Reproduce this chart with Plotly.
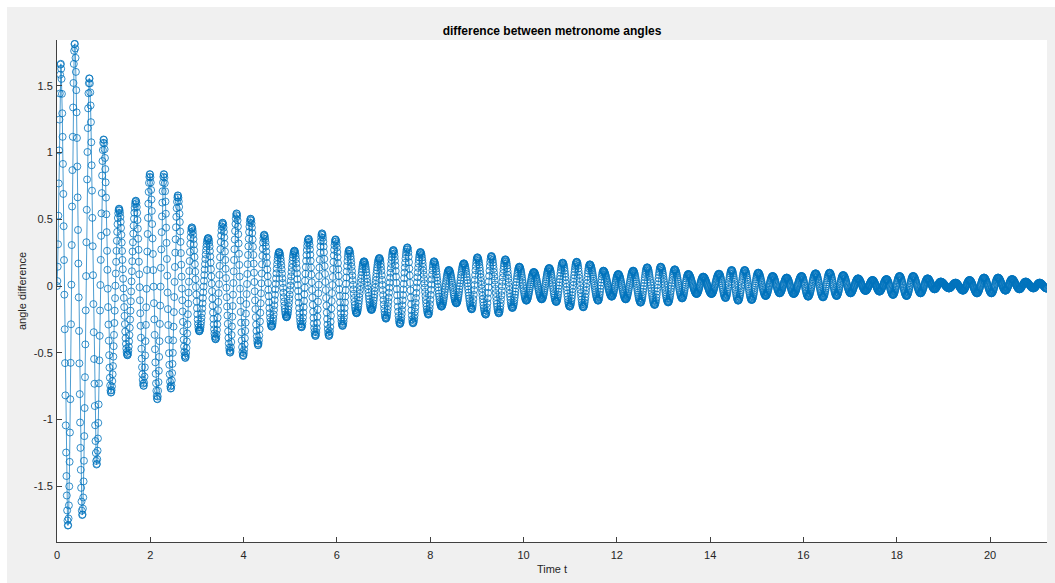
import numpy as np
import plotly.graph_objects as go

# Turning points (local maxima / minima) of the angle difference, in order
turn_t = [0.0, 0.079, 0.236, 0.379, 0.543, 0.693, 0.850, 1.000, 1.157, 1.330,
          1.510, 1.690, 1.857, 1.990, 2.150, 2.290, 2.440, 2.590, 2.750, 2.890,
          3.050, 3.240, 3.400, 3.550, 3.710, 3.850, 3.990, 4.150, 4.310, 4.440,
          4.600, 4.760, 4.920, 5.090, 5.240, 5.390, 5.540, 5.680, 5.830, 5.970,
          6.120, 6.260, 6.420, 6.580, 6.740, 6.910, 7.050, 7.210, 7.350, 7.510,
          7.630, 7.790, 7.960, 8.080, 8.240, 8.400, 8.560, 8.720, 8.890, 9.010,
          9.190, 9.310, 9.470, 9.610, 9.760, 9.910, 10.060, 10.220, 10.390, 10.550,
          10.700, 10.840, 10.990, 11.140, 11.280, 11.420, 11.600, 11.710, 11.890, 12.030,
          12.190, 12.350, 12.510, 12.650, 12.810, 12.940, 13.100, 13.240, 13.400, 13.530,
          13.710, 13.850, 14.030, 14.190, 14.330, 14.460, 14.600, 14.740, 14.890, 15.030,
          15.190, 15.340, 15.490, 15.640, 15.790, 15.960, 16.100, 16.260, 16.420, 16.560,
          16.710, 16.850, 17.010, 17.170, 17.330, 17.480, 17.630, 17.780, 17.920, 18.060,
          18.210, 18.350, 18.510, 18.660, 18.810, 18.940, 19.120, 19.260, 19.420, 19.560,
          19.720, 19.870, 20.030, 20.170, 20.330, 20.470, 20.630, 20.760, 20.930, 21.060,
          21.220]
turn_v = [0.0, 1.67, -1.80, 1.82, -1.72, 1.56, -1.34, 1.10, -0.80, 0.58,
          -0.52, 0.64, -0.75, 0.84, -0.85, 0.84, -0.77, 0.68, -0.54, 0.44,
          -0.34, 0.36, -0.40, 0.475, -0.50, 0.545, -0.525, 0.505, -0.445, 0.385,
          -0.305, 0.255, -0.235, 0.265, -0.31, 0.355, -0.375, 0.395, -0.375, 0.35,
          -0.30, 0.27, -0.205, 0.185, -0.18, 0.21, -0.245, 0.27, -0.285, 0.29,
          -0.28, 0.255, -0.215, 0.185, -0.155, 0.12, -0.13, 0.17, -0.175, 0.215,
          -0.215, 0.225, -0.205, 0.20, -0.165, 0.145, -0.11, 0.105, -0.10, 0.135,
          -0.12, 0.175, -0.155, 0.182, -0.16, 0.162, -0.11, 0.115, -0.08, 0.09,
          -0.10, 0.115, -0.125, 0.14, -0.142, 0.145, -0.123, 0.125, -0.093, 0.09,
          -0.06, 0.07, -0.06, 0.092, -0.09, 0.12, -0.11, 0.12, -0.105, 0.10,
          -0.075, 0.075, -0.055, 0.063, -0.06, 0.075, -0.08, 0.095, -0.085, 0.10,
          -0.075, 0.082, -0.055, 0.057, -0.037, 0.045, -0.042, 0.052, -0.067, 0.075,
          -0.075, 0.075, -0.055, 0.057, -0.025, 0.033, -0.018, 0.025, -0.035, 0.045,
          -0.055, 0.063, -0.055, 0.063, -0.035, 0.052, -0.025, 0.033, -0.018, 0.025,
          -0.02]

# solver output step
dt = 0.0075

tt = np.asarray(turn_t)
vv = np.asarray(turn_v)
t = np.arange(0.0, tt[-1] + 1e-9, dt)
seg = np.clip(np.searchsorted(tt, t, side="right") - 1, 0, len(tt) - 2)
s = (t - tt[seg]) / (tt[seg + 1] - tt[seg])
y = vv[seg] + (vv[seg + 1] - vv[seg]) * (1 - np.cos(np.pi * s)) / 2

BLUE = "#0072BD"
AX = "#404040"
FONT = "Liberation Sans, Arial, Helvetica, sans-serif"

fig = go.Figure()
fig.add_trace(go.Scatter(
    x=t, y=y, mode="lines+markers",
    line=dict(color=BLUE, width=0.7),
    marker=dict(symbol="circle-open", size=7, color=BLUE, line=dict(width=0.8, color=BLUE)),
    showlegend=False, hoverinfo="skip",
))

W, H = 1055, 583
ML, MR, MT, MB = 57, 8, 40, 41
pw, ph = W - ML - MR, H - MT - MB

def px_x(p):
    return (p - ML) / pw

def px_y(p):
    return (H - MB - p) / ph

# white strips at the left and top edge of the window
shapes = [
    dict(type="rect", xref="paper", yref="paper", x0=px_x(0), x1=px_x(7), y0=px_y(H), y1=px_y(0),
         fillcolor="white", line=dict(width=0), layer="below"),
    dict(type="rect", xref="paper", yref="paper", x0=px_x(0), x1=px_x(W), y0=px_y(7), y1=px_y(0),
         fillcolor="white", line=dict(width=0), layer="below"),
]

xticks = list(range(0, 21, 2))
yticks = [-1.5, -1, -0.5, 0, 0.5, 1, 1.5]
ytick_text = ["-1.5", "-1", "-0.5", "0", "0.5", "1", "1.5"]

fig.update_layout(
    width=W, height=H,
    margin=dict(l=ML, r=MR, t=MT, b=MB, pad=0),
    paper_bgcolor="#f0f0f0", plot_bgcolor="white",
    font=dict(family=FONT, size=11, color="#262626"),
    title=dict(text="<b>difference between metronome angles</b>", xref="container", x=552 / W,
               xanchor="center", yref="container", y=1 - 30.5 / H, yanchor="middle",
               font=dict(family=FONT, size=12, color="#000000")),
    shapes=shapes,
    xaxis=dict(range=[0, tt[-1]], tickvals=xticks, ticktext=[str(v) for v in xticks],
               ticks="inside", ticklen=5, tickcolor=AX, showline=True, linecolor=AX, linewidth=1,
               showgrid=False, zeroline=False, mirror=False, ticklabelstandoff=3,
               tickfont=dict(family=FONT, size=11, color="#262626"),
               title=dict(text="Time t", standoff=5, font=dict(family=FONT, size=11, color="#262626"))),
    yaxis=dict(range=[-1.919, 1.844], tickvals=yticks, ticktext=ytick_text,
               ticks="inside", ticklen=5, tickcolor=AX, showline=True, linecolor=AX, linewidth=1,
               showgrid=False, zeroline=False, mirror=False, ticklabelstandoff=1,
               tickfont=dict(family=FONT, size=11, color="#262626"),
               title=dict(text="angle difference", standoff=4, font=dict(family=FONT, size=11, color="#262626"))),
)

fig.write_html("out.html")
